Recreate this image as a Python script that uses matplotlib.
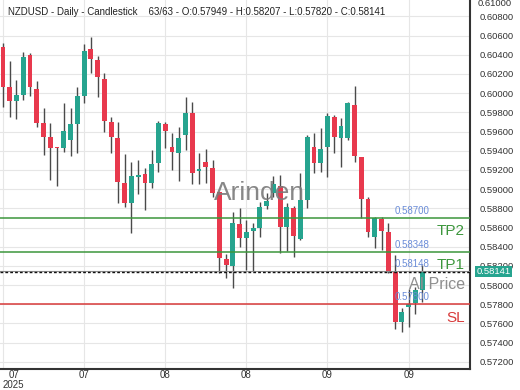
import numpy as np
import matplotlib
matplotlib.use('Agg')
import matplotlib.pyplot as plt

plt.rcParams['font.family'] = ['Liberation Sans', 'DejaVu Sans']

# daily NZDUSD candles
opens = [0.60483, 0.60060, 0.59921, 0.59980, 0.60397, 0.60043, 0.59692, 0.59540, 0.59442, 0.59425,
         0.59511, 0.59678, 0.59970, 0.60459, 0.60345, 0.60147, 0.59702, 0.59535, 0.59067, 0.58858,
         0.59129, 0.59157, 0.59067, 0.59269, 0.59678, 0.59435, 0.59373, 0.59564, 0.59790, 0.59192,
         0.59279, 0.59217, 0.58973, 0.58269, 0.58199, 0.58636, 0.58487, 0.58567, 0.58598, 0.58824,
         0.58956, 0.59030, 0.58608, 0.58800, 0.58477, 0.58886, 0.59435, 0.59269, 0.59442, 0.59748,
         0.59529, 0.59529, 0.59876, 0.59337, 0.58894, 0.58504, 0.58689, 0.58556, 0.58133, 0.57619,
         0.57777, 0.57810, 0.57949]
highs = [0.60519, 0.60337, 0.60136, 0.60431, 0.60415, 0.60129, 0.59842, 0.59685, 0.59442, 0.59900,
         0.59842, 0.60067, 0.60511, 0.60587, 0.60386, 0.60206, 0.59754, 0.59702, 0.59362, 0.59285,
         0.59303, 0.59217, 0.59407, 0.59709, 0.59702, 0.59581, 0.59650, 0.59956, 0.59904, 0.59379,
         0.59415, 0.59303, 0.58973, 0.58321, 0.58765, 0.58800, 0.58678, 0.58650, 0.58869, 0.58956,
         0.59136, 0.59147, 0.58852, 0.58824, 0.59171, 0.59564, 0.59587, 0.59633, 0.59790, 0.59772,
         0.59744, 0.59910, 0.60074, 0.59337, 0.58915, 0.58712, 0.58706, 0.58650, 0.58313, 0.57758,
         0.57959, 0.57983, 0.58207]
lows = [0.59858, 0.59754, 0.59727, 0.59928, 0.59970, 0.59644, 0.59355, 0.59095, 0.59032, 0.59390,
        0.59345, 0.59373, 0.59894, 0.60206, 0.59962, 0.59598, 0.59379, 0.58852, 0.58817, 0.58540,
        0.58949, 0.58782, 0.59008, 0.59181, 0.59425, 0.59199, 0.59087, 0.59407, 0.59053, 0.59053,
        0.59060, 0.58921, 0.58123, 0.58071, 0.57967, 0.58400, 0.58157, 0.58150, 0.58504, 0.58790,
        0.58921, 0.58337, 0.58360, 0.58296, 0.58470, 0.58800, 0.59171, 0.59181, 0.59123, 0.59373,
        0.59233, 0.59511, 0.59285, 0.58696, 0.58504, 0.58383, 0.58366, 0.58123, 0.57540, 0.57514,
        0.57567, 0.57699, 0.57820]
closes = [0.60067, 0.59921, 0.59977, 0.60373, 0.60067, 0.59692, 0.59540, 0.59431, 0.59425, 0.59605,
          0.59675, 0.59970, 0.60439, 0.60352, 0.60165, 0.59712, 0.59540, 0.59071, 0.58858, 0.59136,
          0.59147, 0.59060, 0.59258, 0.59685, 0.59608, 0.59383, 0.59535, 0.59790, 0.59165, 0.59206,
          0.59227, 0.58962, 0.58279, 0.58209, 0.58650, 0.58487, 0.58556, 0.58598, 0.58817, 0.58879,
          0.59050, 0.58608, 0.58810, 0.58511, 0.58886, 0.59540, 0.59269, 0.59415, 0.59761, 0.59546,
          0.59657, 0.59894, 0.59345, 0.58894, 0.58556, 0.58696, 0.58567, 0.58140, 0.57619, 0.57723,
          0.57803, 0.57949, 0.58141]

tick_idx = [0, 12, 24, 36, 48, 60]
tick_labels = ['07\n2025', '07', '08', '08', '09', '09']

level_names = ['TP2', 'TP1', 'AI Price', 'SL']
level_values = [0.58700, 0.58348, 0.58148, 0.57800]
level_colors = ['#3c963c', '#3c963c', '#8f8f8f', '#d83a3a']

UP = '#26a48f'
DOWN = '#e8394d'

o = np.array(opens)
h = np.array(highs)
l = np.array(lows)
c = np.array(closes)
x = np.arange(len(o))
up = c >= o

fig = plt.figure(figsize=(5.2, 3.9), dpi=100)
ax = fig.add_axes([0, 21 / 390, 470 / 520, 369 / 390])

ax.vlines(x, l, h, color='#4a4a4a', lw=1, zorder=2)
body_low = np.minimum(o, c)
body_h = np.maximum(np.abs(c - o), 0.00003)
ax.bar(x, body_h, bottom=body_low, width=0.72,
       color=np.where(up, UP, DOWN), zorder=3)

ax.set_xlim(-0.44, 69.08)
ax.set_ylim(0.57126, 0.6097)

# level lines with their labels
for name, val, col in zip(level_names, level_values, level_colors):
    if name == 'AI Price':
        ax.axhline(val, color=col, lw=0.8, zorder=4)
    else:
        ax.axhline(val, color=col, lw=1.1, zorder=4)
    ax.annotate(f'{val:.5f}', xy=(58.0, val), xytext=(0, 1.5), textcoords='offset points',
                ha='left', va='bottom', fontsize=7, color='#6a8cd8', zorder=6)
    ax.annotate(name, xy=(68.35, val), xytext=(0, -4.5), textcoords='offset points',
                ha='right', va='top', fontsize=11.5 if name == 'AI Price' else 11,
                color=col, zorder=6)

# current price
last = c[-1]
ax.axhline(last, color='#111111', lw=1, ls=(0, (2, 1.5)), zorder=5)
ax.annotate(f'{last:.5f}', xy=(1, last), xycoords=ax.get_yaxis_transform(),
            xytext=(4.5, 0), textcoords='offset points', ha='left', va='center',
            fontsize=6.8, color='white', annotation_clip=False, zorder=8,
            bbox=dict(boxstyle='square,pad=0.12', fc=UP, ec='none'))

ax.text(37.9, 0.58959, 'Arinden', fontsize=19, color='#7a7a7a', alpha=0.9,
        ha='center', va='center', zorder=7)

ax.set_yticks(np.arange(0.572, 0.6085, 0.002))
ax.yaxis.set_major_formatter(matplotlib.ticker.FormatStrFormatter('%.5f'))
ax.yaxis.tick_right()
ax.tick_params(axis='y', length=0, pad=7, labelsize=6.8, labelcolor='#333333')
ax.set_xticks(tick_idx)
ax.set_xticklabels(tick_labels)
ax.tick_params(axis='x', length=0, pad=1, labelsize=7, labelcolor='#333333')
first = ax.get_xticklabels()[0]
first.set_ha('left')
first.set_multialignment('center')
first.set_linespacing(0.9)

ax.grid(color='#e6e6e6', lw=0.8)
ax.set_axisbelow(True)
for side in ['left', 'top']:
    ax.spines[side].set_visible(False)
for side in ['right', 'bottom']:
    ax.spines[side].set_color('#333333')
    ax.spines[side].set_linewidth(1.5)

fig.text(478 / 520, 1 - 3 / 390, '0.61000', fontsize=6.8, color='#333333', va='center')

title = (f'NZDUSD - Daily - Candlestick    {len(o)}/{len(o)} - O:{o[-1]:.5f} - '
         f'H:{h[-1]:.5f} - L:{l[-1]:.5f} - C:{c[-1]:.5f}')
fig.text(8 / 520, 1 - 12 / 390, title, fontsize=7, color='#222222', va='center')

fig.savefig('out.png', dpi=100, facecolor='white')
